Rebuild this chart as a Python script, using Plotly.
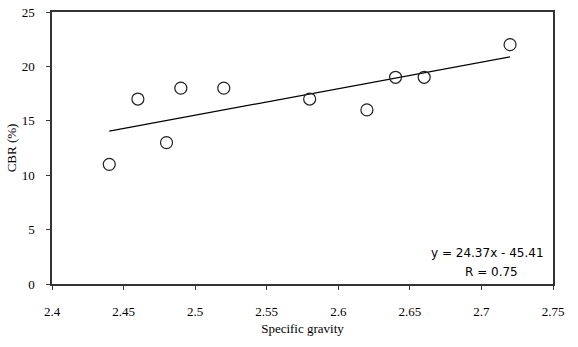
import plotly.graph_objects as go

specific_gravity = [2.44, 2.46, 2.48, 2.49, 2.52, 2.58, 2.62, 2.64, 2.66, 2.72]
cbr = [11, 17, 13, 18, 18, 17, 16, 19, 19, 22]
slope = 24.37
intercept = -45.41
x_ticks = [2.4, 2.45, 2.5, 2.55, 2.6, 2.65, 2.7, 2.75]
y_ticks = [0, 5, 10, 15, 20, 25]

fit_x = [min(specific_gravity), max(specific_gravity)]
fit_y = [slope * v + intercept for v in fit_x]

fig = go.Figure()
fig.add_trace(go.Scatter(x=fit_x, y=fit_y, mode="lines",
                         line=dict(color="black", width=1.2), showlegend=False))
fig.add_trace(go.Scatter(x=specific_gravity, y=cbr, mode="markers",
                         marker=dict(symbol="circle-open", size=12,
                                     color="#222", line=dict(width=1.2)),
                         showlegend=False))

serif = "Liberation Serif"
axis_common = dict(showline=True, linecolor="#333", linewidth=1.5, mirror=True,
                   ticks="outside", ticklen=4, tickcolor="#333", showgrid=False,
                   zeroline=False, automargin=False, ticklabeloverflow="allow",
                   tickfont=dict(family=serif, size=13, color="black"))
fig.update_xaxes(range=[2.4, 2.75], tickvals=x_ticks, ticktext=[str(v) for v in x_ticks],
                 ticklabelstandoff=11,
                 title=dict(text="Specific gravity", font=dict(family=serif, size=13, color="black"),
                            standoff=6),
                 **axis_common)
fig.update_yaxes(range=[0, 25], tickvals=y_ticks, ticklabelstandoff=9,
                 title=dict(text="CBR (%)", font=dict(family=serif, size=13, color="black"),
                            standoff=2),
                 **axis_common)

fig.add_annotation(xref="paper", yref="paper", x=0.987, y=0.114, xanchor="right", yanchor="middle",
                   text=f"y = {slope}x - {abs(intercept)}", showarrow=False,
                   font=dict(family="DejaVu Sans", size=12, color="black"))
fig.add_annotation(xref="paper", yref="paper", x=0.877, y=0.044, xanchor="center", yanchor="middle",
                   text="R = 0.75", showarrow=False,
                   font=dict(family="DejaVu Sans", size=12, color="black"))

fig.update_layout(width=578, height=347, margin=dict(l=52, r=25, t=12, b=63, autoexpand=False),
                  font=dict(family=serif, size=13, color="black"),
                  plot_bgcolor="white", paper_bgcolor="white")
fig.write_html("out.html", config={"displayModeBar": False},
               post_script="document.body.style.margin='0';document.body.style.overflow='hidden';")
